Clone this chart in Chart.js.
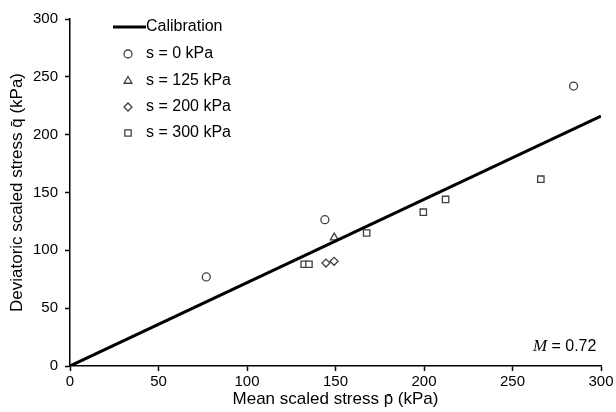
<!DOCTYPE html>
<html><head><meta charset="utf-8">
<script src="https://cdn.jsdelivr.net/npm/chart.js@4"></script>
<style>html,body{margin:0;padding:0;background:#fff}#w{width:616px;height:412px}</style>
</head><body><div id="w"><canvas id="c"></canvas></div>
<script>
const xTicks = [0, 50, 100, 150, 200, 250, 300];
const yTicks = [0, 50, 100, 150, 200, 250, 300];
const calibration = [{x: 0, y: 0}, {x: 300, y: 216}];
const s0 = [{x: 77, y: 77}, {x: 144, y: 126.5}, {x: 284.5, y: 242}];
const s125 = [{x: 149.3, y: 111}];
const s200 = [{x: 144.6, y: 89}, {x: 149.2, y: 90.5}];
const s300 = [{x: 132.3, y: 88}, {x: 135, y: 88}, {x: 167.6, y: 115}, {x: 199.6, y: 133}, {x: 212.2, y: 144}, {x: 266, y: 161.5}];
const mLabel = "0.72";

const mk = '#404040';
const SANS = '"Liberation Sans", Arial, sans-serif';
const ptStyle = (style, r) => ({type: 'scatter', pointStyle: style, pointRadius: r, pointBorderColor: mk, backgroundColor: '#fff', pointBackgroundColor: '#fff', pointBorderWidth: 1.3, showLine: false});

const legendPlugin = {
  id: 'legendIn',
  afterDraw(chart) {
    const ctx = chart.ctx;
    ctx.save();
    const items = [[1, 'circle', 54], [2, 'triangle', 81], [3, 'rectRot', 107], [4, 'rect', 133]];
    items.forEach(([di, st, y]) => {
      const ds = chart.data.datasets[di];
      ctx.strokeStyle = mk; ctx.fillStyle = '#fff'; ctx.lineWidth = 1.3;
      Chart.helpers.drawPoint(ctx, {pointStyle: st, radius: ds.pointRadius, borderWidth: 1.3}, 128, y);
    });
    ctx.restore();
    ctx.save();
    ctx.font = '16px ' + SANS;
    ctx.textBaseline = 'middle';
    ctx.fillStyle = '#000';
    ctx.strokeStyle = '#000'; ctx.lineWidth = 3;
    ctx.beginPath(); ctx.moveTo(113, 27); ctx.lineTo(146, 27); ctx.stroke();
    ctx.fillText('Calibration', 146, 27);
    [[chart.data.datasets[1].label, 54], [chart.data.datasets[2].label, 81], [chart.data.datasets[3].label, 107], [chart.data.datasets[4].label, 133]].forEach(([t, y]) => ctx.fillText(t, 146, y));
    ctx.font = 'italic 17px "Liberation Serif", serif';
    ctx.fillText('M', 533, 347);
    ctx.font = '16px ' + SANS;
    ctx.fillText(' = ' + mLabel, 547, 347);
    ctx.restore();
  }
};

new Chart(document.getElementById('c'), {
  type: 'scatter',
  data: {
    datasets: [
      {label: 'Calibration', data: calibration, showLine: true, borderColor: '#000', borderWidth: 3, pointRadius: 0, fill: false},
      Object.assign({label: 's = 0 kPa', data: s0}, ptStyle('circle', 4)),
      Object.assign({label: 's = 125 kPa', data: s125}, ptStyle('triangle', 4.5)),
      Object.assign({label: 's = 200 kPa', data: s200}, ptStyle('rectRot', 4)),
      Object.assign({label: 's = 300 kPa', data: s300}, ptStyle('rect', 4.5))
    ]
  },
  options: {
    responsive: true, maintainAspectRatio: false, animation: false,
    layout: {padding: {top: 19, right: 15, left: 4, bottom: 2}},
    plugins: {legend: {display: false}, tooltip: {enabled: false}},
    scales: {
      x: {
        type: 'linear', min: 0, max: 300,
        afterBuildTicks: a => { a.ticks = xTicks.map(v => ({value: v})); },
        afterFit: s => { s.height = 44; },
        border: {color: '#000', width: 1.5},
        grid: {drawOnChartArea: false, color: '#000', tickLength: 5, tickWidth: 1.5},
        ticks: {color: '#000', font: {size: 15, family: SANS}, padding: 2, maxRotation: 0},
        title: {display: true, text: 'Mean scaled stress p\u0304 (kPa)', color: '#000', font: {size: 17, family: SANS}, padding: {top: 0, bottom: 0}}
      },
      y: {
        type: 'linear', min: 0, max: 300,
        afterBuildTicks: a => { a.ticks = yTicks.map(v => ({value: v})); },
        afterFit: s => { s.width = 66; },
        border: {color: '#000', width: 1.5},
        grid: {drawOnChartArea: false, color: '#000', tickLength: 5, tickWidth: 1.5},
        ticks: {color: '#000', font: {size: 15, family: SANS}, padding: 7},
        title: {display: true, text: 'Deviatoric scaled stress q\u0304 (kPa)', color: '#000', font: {size: 17, family: SANS}, padding: {top: 3, bottom: 4}}
      }
    }
  },
  plugins: [legendPlugin]
});
</script>
</body></html>
